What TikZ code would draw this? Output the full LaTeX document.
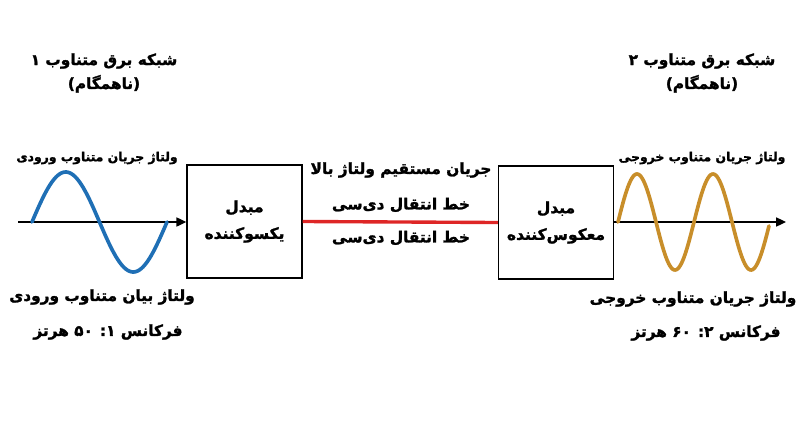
\documentclass[tikz,border=0pt]{standalone}
\usepackage{fontspec}
\usetikzlibrary{arrows.meta}
\TeXXeTstate=1
\newfontfamily\farsi[Script=Arabic, BoldFeatures={FakeBold=1.6}]{DejaVu Sans}
\newcommand{\fatext}[1]{{\farsi\bfseries\beginR #1\endR}}
\newcommand{\axisy}{222}
\definecolor{inwave}{RGB}{31,111,181}
\definecolor{outwave}{RGB}{200,142,42}
\definecolor{dcred}{RGB}{222,38,38}
\tikzset{
  converter/.style={draw, line width=1pt, minimum width=2.875cm,
    minimum height=2.825cm, align=center, font=\fontsize{11}{19}\selectfont},
  grid title/.style={align=center, font=\fontsize{10.9}{17}\selectfont},
  big label/.style={font=\fontsize{10.9}{15}\selectfont},
  small label/.style={font=\fontsize{8.8}{12}\selectfont},
  wave/.style={line width=2.6pt, line cap=round},
  axis/.style={line width=0.9pt, -{Triangle[length=7pt,width=6.5pt]}},
}

\begin{document}
\begin{tikzpicture}[x=0.025cm, y=-0.025cm]
    \useasboundingbox (0,0) rectangle (800,447);
    %
    \node[converter] (rectifier) at (244.5,221.5)
        {\fatext{مبدل}\\\fatext{یکسوکننده}};
    \node[converter] (inverter) at (556,222.5)
        {\fatext{مبدل}\\\fatext{معکوس‌کننده}};

    % dc link between the two converters
    \draw[line width=2.4pt, dcred] (rectifier.east) -- (inverter.west);
    \node[big label] (hvdc) at (401,170) {\fatext{جریان مستقیم ولتاژ بالا}};
    \node[big label] (dcupper) at (401,205) {\fatext{خط انتقال دی‌سی}};
    \node[big label] (dclower) at (401,238) {\fatext{خط انتقال دی‌سی}};

    % ac grid 1, input side
    \node[grid title] (grid1) at (104,73)
        {\fatext{شبکه برق متناوب ۱}\\\fatext{(ناهمگام)}};
    \node[small label] (inwavetitle) at (97,158) {\fatext{ولتاژ جریان متناوب ورودی}};
    \coordinate (inaxis) at (18,\axisy);
    \draw[axis] (inaxis) -- (rectifier.west |- inaxis);
    \draw[wave, inwave] plot[domain=0:135, samples=80, smooth]
        ({32+\x},{\axisy-50*sin(\x/135*360)});
    \node[big label] (inlabel) at (102,297) {\fatext{ولتاژ بیان متناوب ورودی}};
    \node[big label] (infreq) at (108,332) {\fatext{فرکانس ۱: ۵۰ هرتز}};

    % ac grid 2, output side
    \node[grid title] (grid2) at (702,73)
        {\fatext{شبکه برق متناوب ۲}\\\fatext{(ناهمگام)}};
    \node[small label] (outwavetitle) at (702,158) {\fatext{ولتاژ جریان متناوب خروجی}};
    \coordinate (outaxis) at (786,\axisy);
    \draw[axis] (inverter.east |- outaxis) -- (outaxis);
    \draw[wave, outwave] plot[domain=0:151, samples=120, smooth]
        ({618+\x},{\axisy-48*sin(\x/76*360)});
    \node[big label] (outlabel) at (693,299) {\fatext{ولتاژ جریان متناوب خروجی}};
    \node[big label] (outfreq) at (706,333) {\fatext{فرکانس ۲: ۶۰ هرتز}};
\end{tikzpicture}
\end{document}
